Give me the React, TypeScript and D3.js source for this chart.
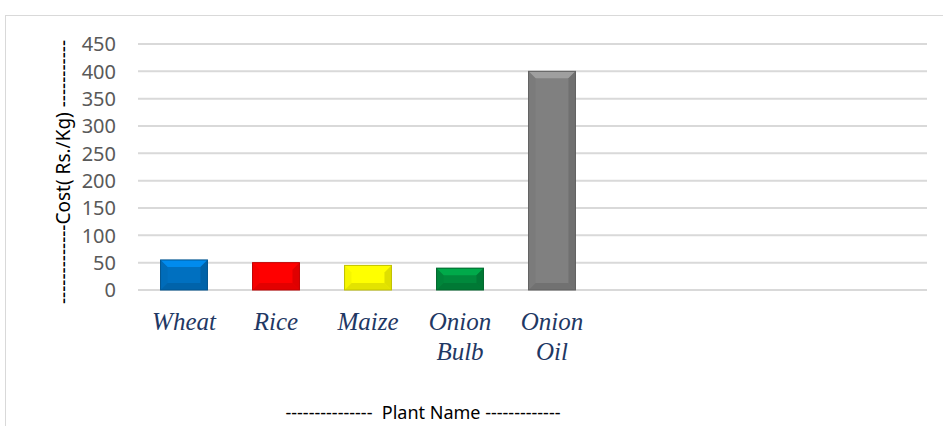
import { useMemo } from "react";
import * as d3 from "d3";

const plants = ["Wheat", "Rice", "Maize", "Onion Bulb", "Onion Oil"];
const costs = [55, 50, 45, 40, 400];
const barColors = ["#0070c0", "#ff0000", "#ffff00", "#00893c", "#808080"];
const yTicks = [0, 50, 100, 150, 200, 250, 300, 350, 400, 450];

const W = 943;
const H = 426;
const plotLeft = 138;
const plotRight = 927;
const plotTop = 44;
const plotBottom = 290;
const step = 92;

function Bar({ x, y, w, h, color }: { x: number; y: number; w: number; h: number; color: string }) {
  const b = Math.min(7, h / 3);
  const light = d3.color(color)!.brighter(0.6).formatHex();
  const dark = d3.color(color)!.darker(0.8).formatHex();
  const mid = d3.color(color)!.darker(0.3).formatHex();
  return (
    <g>
      <rect x={x} y={y} width={w} height={h} fill={color} />
      <polygon points={`${x},${y} ${x + w},${y} ${x + w - b},${y + b} ${x + b},${y + b}`} fill={light} />
      <polygon points={`${x},${y} ${x + b},${y + b} ${x + b},${y + h - b} ${x},${y + h}`} fill={mid} opacity={0.35} />
      <polygon points={`${x + w},${y} ${x + w},${y + h} ${x + w - b},${y + h - b} ${x + w - b},${y + b}`} fill={dark} opacity={0.5} />
      <polygon points={`${x},${y + h} ${x + b},${y + h - b} ${x + w - b},${y + h - b} ${x + w},${y + h}`} fill={dark} opacity={0.45} />
      <rect x={x} y={y} width={w} height={h} fill="none" stroke={dark} strokeWidth={1} />
    </g>
  );
}

export default function App() {
  const x = useMemo(
    () =>
      d3
        .scaleBand<string>()
        .domain(plants)
        .range([plotLeft, plotLeft + step * plants.length])
        .paddingInner(0.49)
        .paddingOuter(0.245),
    []
  );
  const y = useMemo(() => d3.scaleLinear().domain([0, 450]).range([plotBottom, plotTop]), []);

  return (
    <svg
      width={W}
      height={H}
      style={{ position: "fixed", left: 0, top: 0, background: "#fff" }}
      fontFamily="'Noto Sans', 'Open Sans', sans-serif"
    >
      <rect x={5.5} y={15.5} width={W + 10} height={H} fill="none" stroke="#d9d9d9" strokeWidth={1} />
      {yTicks.map((t) => (
        <g key={t}>
          <line x1={plotLeft} x2={plotRight} y1={y(t)} y2={y(t)} stroke="#d9d9d9" strokeWidth={2} />
          <text x={116} y={y(t)} dy="0.36em" textAnchor="end" fontSize={20} fill="#595959">
            {t}
          </text>
        </g>
      ))}
      {plants.map((p, i) => (
        <Bar
          key={p}
          x={x(p)!}
          y={y(costs[i])}
          w={x.bandwidth()}
          h={y(0) - y(costs[i])}
          color={barColors[i]}
        />
      ))}
      {plants.map((p) => {
        const lines = p.split(" ");
        return (
          <text
            key={p}
            x={x(p)! + x.bandwidth() / 2}
            y={330}
            textAnchor="middle"
            fontFamily="'Liberation Serif', 'Times New Roman', serif"
            fontStyle="italic"
            fontSize={25}
            fill="#1f3864"
          >
            {lines.map((l, j) => (
              <tspan key={j} x={x(p)! + x.bandwidth() / 2} dy={j === 0 ? 0 : 30}>
                {l}
              </tspan>
            ))}
          </text>
        );
      })}
      <text
        transform={`translate(70, 172) rotate(-90)`}
        textAnchor="middle"
        fontSize={19}
        fill="#000"
      >
        -------------Cost( Rs./Kg) -----------
      </text>
      <text x={423} y={419} textAnchor="middle" fontSize={18} fill="#000" xmlSpace="preserve">
        ---------------  Plant Name -------------
      </text>
    </svg>
  );
}
